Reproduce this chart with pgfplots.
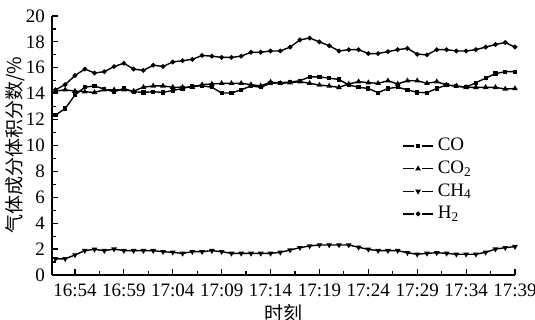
\documentclass[border=0pt]{standalone}
\usepackage{pgfplots}
\pgfplotsset{compat=1.18}
\usepackage{pgfplotstable}
\usepackage{fontspec}
\setmainfont{Liberation Serif}
\newfontfamily\cjk{Noto Sans CJK SC}
\pgfplotstableread{
k CO CO2 CH4 H2
0 12.35 14.20 1.25 14.30
1 12.85 14.30 1.25 14.70
2 13.90 14.20 1.55 15.40
3 14.50 14.15 1.88 15.90
4 14.60 14.10 1.98 15.60
5 14.35 14.30 1.88 15.70
6 14.15 14.30 2.00 16.10
7 14.40 14.30 1.88 16.35
8 14.15 14.20 1.88 15.90
9 14.10 14.50 1.88 15.80
10 14.15 14.60 1.88 16.20
11 14.10 14.60 1.80 16.10
12 14.25 14.50 1.75 16.45
13 14.40 14.50 1.67 16.55
14 14.60 14.50 1.80 16.65
15 14.60 14.70 1.80 16.95
16 14.50 14.75 1.88 16.90
17 14.05 14.80 1.80 16.80
18 14.05 14.80 1.67 16.80
19 14.30 14.80 1.67 16.90
20 14.60 14.70 1.67 17.20
21 14.50 14.60 1.67 17.20
22 14.80 14.90 1.67 17.30
23 14.85 14.80 1.75 17.30
24 14.90 14.85 1.93 17.60
25 15.00 14.93 2.11 18.15
26 15.30 14.80 2.24 18.30
27 15.30 14.67 2.32 18.00
28 15.20 14.59 2.32 17.70
29 15.10 14.49 2.32 17.30
30 14.67 14.75 2.32 17.40
31 14.50 14.93 2.14 17.40
32 14.40 14.85 1.98 17.10
33 14.08 14.80 1.88 17.10
34 14.40 15.00 1.88 17.25
35 14.50 14.75 1.88 17.40
36 14.30 15.00 1.72 17.50
37 14.10 15.00 1.60 17.05
38 14.08 14.80 1.67 17.00
39 14.40 14.93 1.72 17.40
40 14.67 14.67 1.67 17.40
41 14.59 14.59 1.60 17.30
42 14.50 14.49 1.60 17.30
43 14.85 14.49 1.60 17.40
44 15.20 14.49 1.75 17.60
45 15.55 14.49 2.00 17.80
46 15.70 14.36 2.11 17.95
47 15.70 14.40 2.19 17.60
}\datatable
\begin{document}
\begin{tikzpicture}
\useasboundingbox (-26pt,-22.5pt) rectangle (241.5pt,137.5pt);
\begin{axis}[
  at={(0,0)}, anchor=south west,
  scale only axis, width=231.5pt, height=129.5pt,
  axis lines*=left, axis line style={-, line width=0.6pt},
  xmin=-0.35, xmax=47, ymin=0, ymax=20,
  xtick={2,7,12,17,22,27,32,37,42,47},
  xticklabels={16:54,16:59,17:04,17:09,17:14,17:19,17:24,17:29,17:34,17:39},
  minor x tick num=1,
  ytick={0,2,...,20}, minor y tick num=1,
  tick align=inside,
  major tick length=3pt, minor tick length=1.8pt,
  tick style={black, line width=0.6pt},
  /pgf/number format/assume math mode=true,
  tick label style={font=\fontsize{9.5}{11}\selectfont},
  xticklabel style={yshift=-1pt},
  xlabel={\cjk 时刻}, ylabel={\cjk 气体成分体积分数/\%},
  label style={font=\fontsize{9.5}{11}\selectfont},
  xlabel style={yshift=3pt},
  ylabel style={yshift=-6.5pt},
  legend image code/.code={
    \draw[#1, mark=none] (0pt,0pt) -- (5.5pt,0pt);
    \draw[#1, mark=none] (9.5pt,0pt) -- (15pt,0pt);
    \draw[#1, only marks] plot coordinates {(7.5pt,0pt)};
  },
  legend style={at={(0.743,0.56)}, anchor=north west, draw=none, fill=none,
    font=\fontsize{9.5}{11}\selectfont, row sep=-0.5pt,
    /tikz/every even column/.append style={column sep=2pt}},
  legend cell align=left,
]
\addplot[black, line width=0.7pt, mark size=0.8pt, mark=square*, mark options={solid, fill=black, scale=0.9}] table[x=k, y=CO] {\datatable};
\addlegendentry{CO}
\addplot[black, line width=0.7pt, mark size=0.8pt, mark=triangle*, mark options={solid, fill=black, scale=1.2}] table[x=k, y=CO2] {\datatable};
\addlegendentry{CO\textsubscript{2}}
\addplot[black, line width=0.7pt, mark size=0.8pt, mark=triangle*, mark options={solid, fill=black, rotate=180, scale=1.2}] table[x=k, y=CH4] {\datatable};
\addlegendentry{CH\textsubscript{4}}
\addplot[black, line width=0.7pt, mark size=0.8pt, mark=*, mark options={solid, fill=black}] table[x=k, y=H2] {\datatable};
\addlegendentry{H\textsubscript{2}}
\end{axis}
\end{tikzpicture}
\end{document}
